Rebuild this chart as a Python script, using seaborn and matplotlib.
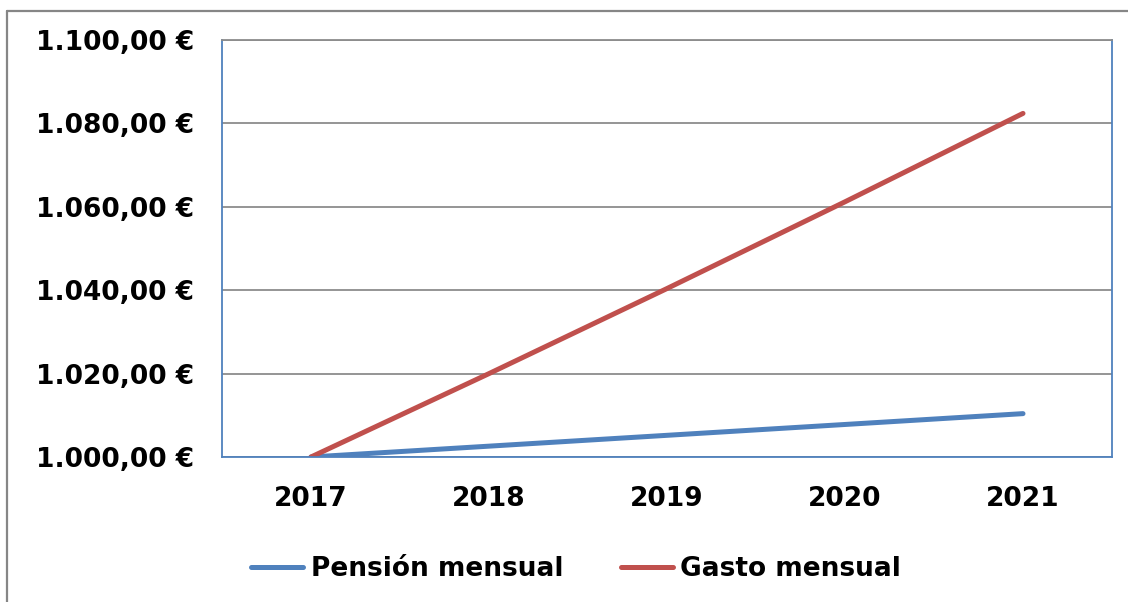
import pandas as pd
import matplotlib
matplotlib.use("Agg")
from matplotlib import pyplot as plt
from matplotlib.ticker import FuncFormatter
from matplotlib.lines import Line2D
import seaborn as sns

years = ['2017', '2018', '2019', '2020', '2021']
pension = [1000.0, 1002.6, 1005.2, 1007.8, 1010.4]
gasto = [1000.0, 1020.0, 1040.4, 1061.2, 1082.4]
series_names = ['Pensión mensual', 'Gasto mensual']
colors = ['#4F81BD', '#C0504D']
y_ticks = [1000, 1020, 1040, 1060, 1080, 1100]


def euro(v, pos=None):
    s = f"{v:,.2f}".replace(',', 'X').replace('.', ',').replace('X', '.')
    return s + ' €'


sns.set_theme(style='white')
plt.rcParams['font.family'] = ['DejaVu Sans']
plt.rcParams['font.weight'] = 'bold'
plt.rcParams['text.color'] = 'black'
plt.rcParams['xtick.color'] = 'black'
plt.rcParams['ytick.color'] = 'black'

frame = pd.DataFrame({
    'year': years * 2,
    'value': pension + gasto,
    'serie': [series_names[0]] * len(years) + [series_names[1]] * len(years),
})

fig = plt.figure(figsize=(11.28, 6.02), dpi=100)
ax = fig.add_axes([222 / 1128, 1 - 457 / 602, 890 / 1128, 417 / 602])

sns.lineplot(ax=ax, data=frame, x='year', y='value', hue='serie',
             palette=colors, linewidth=3.6, legend='brief')
for line in ax.get_lines():
    line.set_solid_capstyle('round')

ax.set_xlim(-0.5, len(years) - 0.5)
ax.set_ylim(1000, 1100)
ax.set_yticks(y_ticks)
ax.yaxis.set_major_formatter(FuncFormatter(euro))
ax.grid(axis='y', color='#8C8C8C', linewidth=1.3)
ax.set_axisbelow(True)
ax.set_xlabel('')
ax.set_ylabel('')
ax.tick_params(axis='y', labelsize=19, pad=20, length=0, labelcolor='black')
ax.tick_params(axis='x', labelsize=19, pad=21, length=0, labelcolor='black')
for lab in ax.get_xticklabels() + ax.get_yticklabels():
    lab.set_fontweight('bold')

for name in ['left', 'right', 'bottom']:
    ax.spines[name].set_color('#4F81BD')
    ax.spines[name].set_linewidth(1.3)
ax.spines['top'].set_color('#8C8C8C')
ax.spines['top'].set_linewidth(1.3)

handles, labels = ax.get_legend_handles_labels()
leg = ax.legend(handles=handles, labels=labels, loc='center', bbox_to_anchor=(0.398, -0.268),
                ncol=2, frameon=False, handlelength=1.95, handletextpad=0.3,
                columnspacing=2.2, prop={'size': 19, 'weight': 'bold'})
for t in leg.get_texts():
    t.set_color('black')

# outer chart border (top and left edges visible)
fig.add_artist(Line2D([7 / 1128, 7 / 1128], [0, 1 - 11 / 602], transform=fig.transFigure,
                      color='#868686', linewidth=1.6))
fig.add_artist(Line2D([7 / 1128, 1], [1 - 11 / 602, 1 - 11 / 602], transform=fig.transFigure,
                      color='#868686', linewidth=1.6))

fig.savefig('out.png', dpi=100)
